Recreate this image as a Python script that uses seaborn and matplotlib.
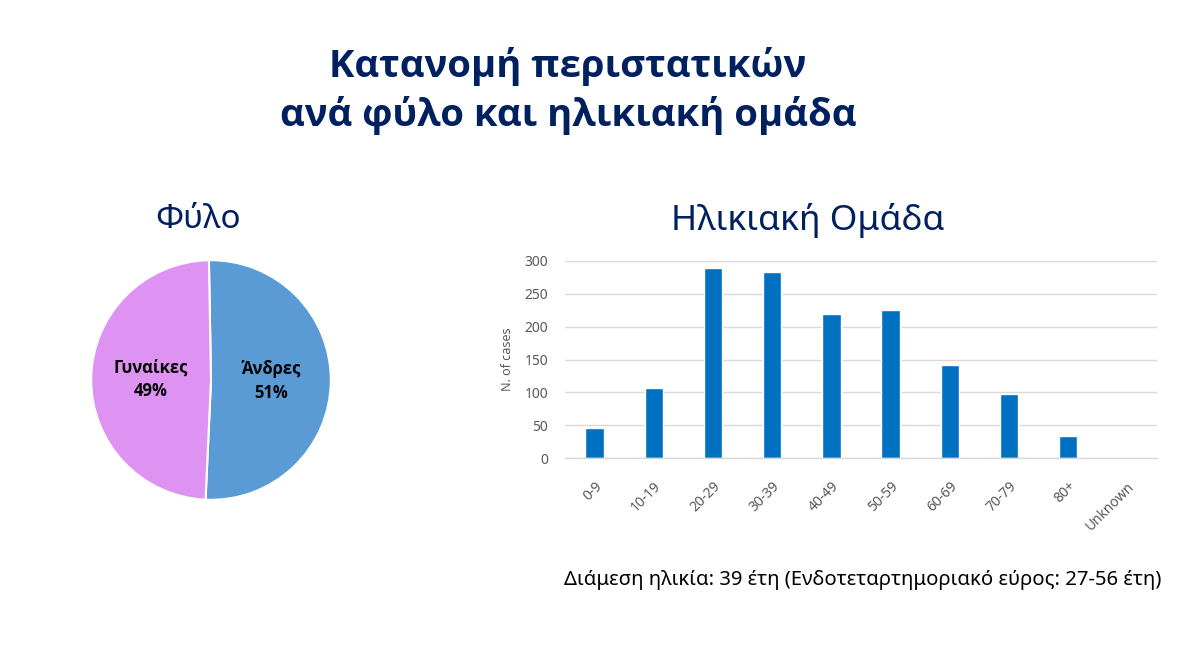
import matplotlib
matplotlib.use("Agg")
import matplotlib.pyplot as plt
import seaborn as sns
import pandas as pd

# ---- data ----
sex_labels = ["Άνδρες", "Γυναίκες"]
sex_values = [51, 49]
sex_colors = ["#5B9BD5", "#DE93F2"]

age_groups = ["0-9", "10-19", "20-29", "30-39", "40-49", "50-59",
              "60-69", "70-79", "80+", "Unknown"]
age_cases = [46, 106, 289, 283, 220, 225, 141, 98, 33, 0]
y_ticks = [0, 50, 100, 150, 200, 250, 300]

main_title = "Κατανομή περιστατικών\nανά φύλο και ηλικιακή ομάδα"
pie_title = "Φύλο"
bar_title = "Ηλικιακή Ομάδα"
y_label = "N. of cases"
note = "Διάμεση ηλικία: 39 έτη (Ενδοτεταρτημοριακό εύρος: 27-56 έτη)"

sns.set_theme(style="white")
plt.rcParams["font.family"] = ["Noto Sans", "DejaVu Sans"]
BOLD = ["Open Sans", "DejaVu Sans"]

W, H = 1178, 649
fig = plt.figure(figsize=(W / 100, H / 100), dpi=100)
fig.patch.set_facecolor("white")

navy = "#002060"
gray = "#595959"

def fx(x):
    return x / W

def fy(y):
    return 1 - y / H

# titles
fig.text(fx(568), fy(91), main_title, ha="center", va="center",
         fontsize=27.5, fontweight="bold", family=BOLD, color=navy,
         linespacing=1.32)
fig.text(fx(198), fy(220), pie_title, ha="center", va="center",
         fontsize=24, color=navy)
fig.text(fx(808), fy(220), bar_title, ha="center", va="center",
         fontsize=25.5, color=navy)

# ---- pie ----
cx, cy, r = 211, 380, 121
ax_pie = fig.add_axes([fx(cx - r), fy(cy + r), (2 * r) / W, (2 * r) / H])
wedges, texts = ax_pie.pie(
    sex_values,
    labels=[f"{l}\n{v}%" for l, v in zip(sex_labels, sex_values)],
    colors=sex_colors, startangle=91, counterclock=False,
    labeldistance=0.5,
    wedgeprops=dict(edgecolor="white", linewidth=1.5),
    textprops=dict(fontsize=12, fontweight="bold", family=BOLD,
                   color="black"),
)
for t in texts:
    t.set_ha("center")
    t.set_va("center")
    t.set_linespacing(1.4)
ax_pie.set_xlim(-1.01, 1.01)
ax_pie.set_ylim(-1.01, 1.01)
ax_pie.set_aspect("equal")

# ---- bar chart ----
left, right, y0, y300 = 565, 1157, 458, 261
ax = fig.add_axes([fx(left), fy(y0), (right - left) / W, (y0 - y300) / H])
df = pd.DataFrame({"age": age_groups, "cases": age_cases})
sns.barplot(data=df, x="age", y="cases", order=age_groups, color="#0070C0",
            saturation=1, width=0.31, ax=ax)
ax.set_xlim(-0.5, len(age_groups) - 0.5)
ax.set_ylim(0, 300)
ax.set_yticks(y_ticks)
ax.yaxis.grid(True, color="#D9D9D9", linewidth=1)
ax.set_axisbelow(True)
for s in ["top", "right", "left"]:
    ax.spines[s].set_visible(False)
ax.spines["bottom"].set_color("#D9D9D9")
ax.spines["bottom"].set_linewidth(1)
ax.tick_params(axis="both", length=0, colors=gray, labelsize=10)
ax.tick_params(axis="y", pad=12)
ax.tick_params(axis="x", pad=15)
ax.set_xlabel("")
ax.set_ylabel(y_label, fontsize=9, color=gray, labelpad=8)
plt.setp(ax.get_xticklabels(), rotation=45, ha="right", rotation_mode="anchor")

fig.text(fx(1161), fy(580), note, ha="right", va="center", fontsize=14.6,
         color="black")

fig.savefig("out.png", dpi=100, facecolor="white")
